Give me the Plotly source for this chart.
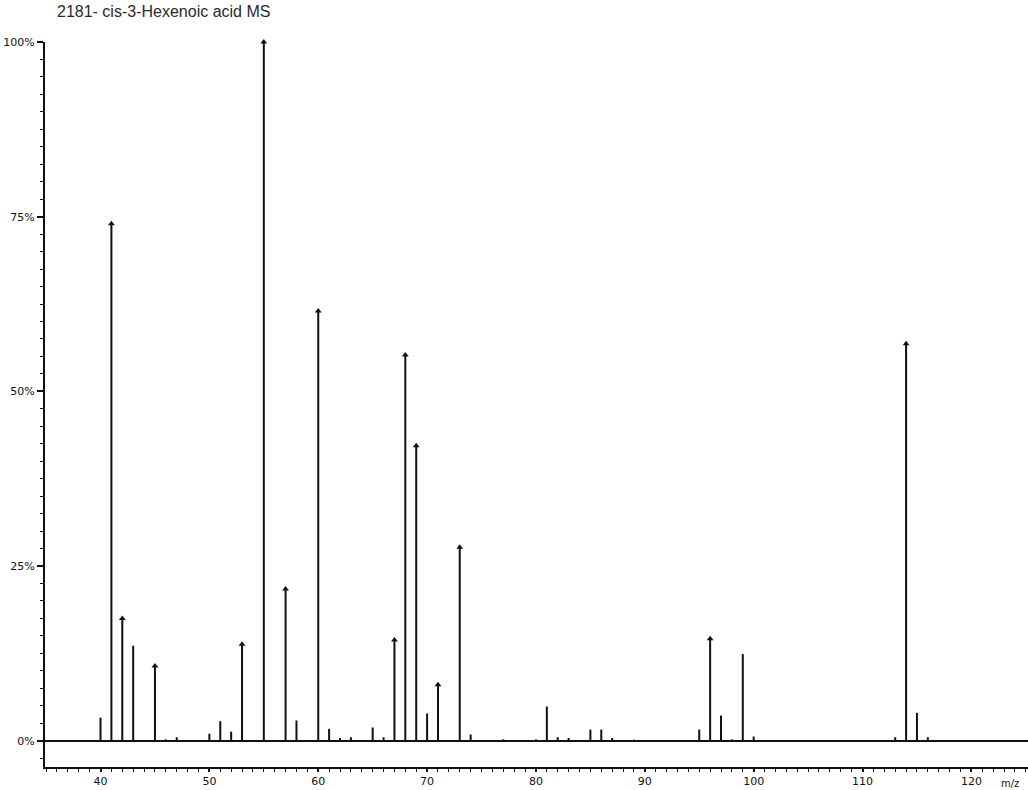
import plotly.graph_objects as go

# m/z values and relative intensities (%)
mz = [40, 41, 42, 43, 45, 46, 47, 50, 51, 52, 53, 55, 57, 58, 60, 61, 62, 63, 65, 66,
      67, 68, 69, 70, 71, 73, 74, 77, 80, 81, 82, 83, 85, 86, 87, 89, 95, 96, 97, 98,
      99, 100, 113, 114, 115, 116]
intensity = [3.3, 74.0, 17.5, 13.6, 10.7, 0.2, 0.5, 1.0, 2.8, 1.3, 13.8, 100.0, 21.7, 2.9,
             61.5, 1.7, 0.4, 0.5, 1.9, 0.5, 14.4, 55.2, 42.2, 3.9, 8.0, 27.7, 0.9, 0.2,
             0.2, 4.9, 0.5, 0.4, 1.6, 1.6, 0.4, 0.15, 1.6, 14.6, 3.6, 0.2, 12.4, 0.6,
             0.5, 56.8, 4.0, 0.5]
# peaks marked with an arrowhead
arrow_mz = [41, 42, 45, 53, 55, 57, 60, 67, 68, 69, 71, 73, 96, 114]

title_text = "2181- cis-3-Hexenoic acid MS"
y_tickvals = [0, 25, 50, 75, 100]
y_ticktext = ["0%", "25%", "50%", "75%", "100%"]
x_tickvals = [40, 50, 60, 70, 80, 90, 100, 110, 120]

lx, ly = [], []
for m, v in zip(mz, intensity):
    lx += [m, m, None]
    ly += [0, v, None]

ink = "#111111"
fig = go.Figure()
fig.add_trace(go.Scatter(x=lx, y=ly, mode="lines",
                         line=dict(color=ink, width=2), hoverinfo="skip",
                         showlegend=False))
arrow_y = [intensity[mz.index(m)] for m in arrow_mz]
fig.add_trace(go.Scatter(x=arrow_mz, y=arrow_y, mode="markers", cliponaxis=False,
                         marker=dict(symbol="triangle-up", size=6, color=ink),
                         hoverinfo="skip", showlegend=False))

tickfont = dict(family="DejaVu Sans", size=11, color=ink)
fig.update_layout(
    width=1028, height=790,
    margin=dict(l=45, r=0, t=42, b=23),
    paper_bgcolor="white", plot_bgcolor="white",
    showlegend=False,
    xaxis=dict(range=[34.9, 125.2], showgrid=False, zeroline=False, automargin=False,
               showline=True, linecolor=ink, linewidth=2,
               ticks="outside", ticklen=3, tickwidth=1.5, tickcolor=ink,
               tickvals=x_tickvals, tickfont=tickfont,
               minor=dict(dtick=1, ticks="outside", ticklen=3, tickwidth=1, tickcolor=ink)),
    yaxis=dict(range=[-3.76, 100], showgrid=False, automargin=False,
               zeroline=True, zerolinecolor=ink, zerolinewidth=2,
               showline=True, linecolor=ink, linewidth=2,
               ticks="outside", ticklen=6, tickwidth=1.5, tickcolor=ink,
               tickvals=y_tickvals, ticktext=y_ticktext, tickfont=tickfont,
               minor=dict(dtick=2.5, tick0=0, ticks="outside", ticklen=3, tickwidth=1, tickcolor=ink)),
    annotations=[
        dict(text=title_text, xref="paper", yref="paper",
             x=(55 - 45) / 983, y=1 + 31 / 725, xanchor="left", yanchor="middle",
             showarrow=False, font=dict(family="Liberation Sans", size=16, color="#2a2a2a")),
        dict(text="m/z", xref="paper", yref="paper", x=(1021 - 45) / 983, y=-16 / 725,
             xanchor="right", yanchor="middle", showarrow=False,
             font=dict(family="DejaVu Sans", size=10, color=ink)),
    ],
)

fig.write_html("out.html", config={"displayModeBar": False},
               post_script="document.body.style.margin='0';document.body.style.overflow='hidden';")
